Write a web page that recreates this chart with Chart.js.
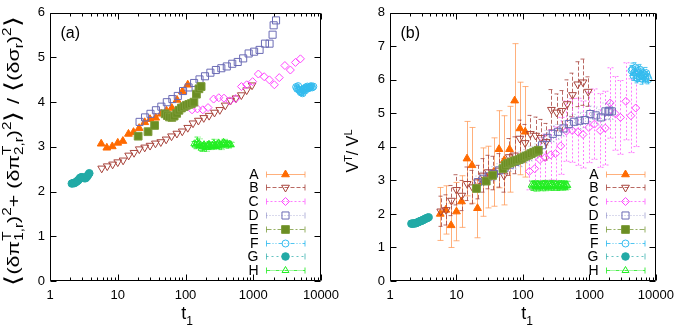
<!DOCTYPE html>
<html><head><meta charset="utf-8">
<script src="https://cdn.jsdelivr.net/npm/chart.js@4.4.1/dist/chart.umd.min.js"></script>
<style>
html,body{margin:0;padding:0;background:#fff;}
#wrap{position:relative;width:681px;height:326px;overflow:hidden;background:#fff;}
#ca{position:absolute;left:0;top:0;width:352px;height:326px;}
#cb{position:absolute;left:340px;top:0;width:341px;height:326px;}
</style></head><body>
<div id="wrap">
<canvas id="ca" width="352" height="326"></canvas>
<canvas id="cb" width="341" height="326"></canvas>
</div>
<script>
// ---------------- data ----------------
const seriesNames = ['A','B','C','D','E','F','G','H'];
const xTickValues = [1, 10, 100, 1000, 10000];
const yTicksA = [0, 1, 2, 3, 4, 5, 6];
const yTicksB = [0, 1, 2, 3, 4, 5, 6, 7, 8];

const A_t = [5.7, 6.9, 8.3, 10, 11.9, 14.4, 17.1, 20.7, 25, 30, 36.3, 43.6, 52.4, 62.8, 75, 90, 108];
const A_a = [3.07, 2.98, 3.01, 3.09, 3.13, 3.29, 3.33, 3.42, 3.55, 3.62, 3.65, 3.74, 3.81, 3.87, 4.05, 4.24, 4.39];
const A_b = [2.00, 2.12, 1.66, 2.07, 2.37, 3.65, 3.45, 2.17, 2.95, 3.10, 3.25, 3.93, 3.60, 3.93, 5.38, 4.55, 4.45];
const A_bErr = [0.79, 0.72, 0.66, 0.87, 0.77, 1.11, 1.13, 0.88, 1.02, 0.92, 1.02, 1.15, 1.33, 1.28, 1.70, 1.38, 1.35];

const B_t = [5.8, 7.0, 8.4, 10, 12, 14.5, 17.4, 20.8, 25, 30, 36, 43.2, 51.8, 62.2, 74.6, 89.6, 108, 129, 155, 186, 223, 268, 321, 386, 463, 556, 667, 800, 960];
const B_a = [2.52, 2.57, 2.61, 2.66, 2.70, 2.81, 2.87, 2.95, 2.99, 3.03, 3.08, 3.11, 3.17, 3.24, 3.30, 3.35, 3.43, 3.53, 3.59, 3.65, 3.70, 3.77, 3.83, 3.93, 4.04, 4.09, 4.16, 4.27, 4.38];
const B_b = [2.08, 2.12, 2.40, 2.72, 2.55, 2.90, 2.80, 2.95, 3.15, 3.25, 3.22, 3.30, 3.15, 3.70, 3.75, 4.25, 4.12, 4.39, 4.34, 4.27, 4.15, 5.11, 5.03, 5.08, 5.28, 5.55, 5.87, 5.93, 5.65];
const B_bErr = [0.45, 0.45, 0.45, 0.45, 0.45, 0.50, 0.50, 0.50, 0.50, 0.50, 0.50, 0.50, 0.50, 0.55, 0.55, 0.55, 0.55, 0.55, 0.55, 0.55, 0.55, 0.60, 0.55, 0.60, 0.72, 0.65, 0.67, 0.69, 0.44];

const C_t = [125, 150, 180, 215, 260, 310, 370, 450, 550, 670, 800, 980, 1190, 1450, 1730, 2050, 2420, 2930, 3530, 4200, 4970];
const C_a = [3.83, 3.85, 3.83, 3.88, 4.07, 4.10, 4.09, 4.03, 4.08, 4.35, 4.39, 4.46, 4.63, 4.57, 4.50, 4.39, 4.55, 4.82, 4.72, 4.89, 4.97];
const C_b = [3.27, 3.35, 3.62, 3.68, 3.76, 3.80, 4.03, 4.47, 4.49, 4.45, 4.37, 4.58, 4.68, 4.49, 4.56, 5.31, 5.00, 4.88, 5.36, 4.93, 5.16];
const C_bErr = [0.55, 0.60, 0.65, 0.70, 0.75, 0.80, 0.85, 0.90, 0.95, 1.00, 1.00, 1.05, 1.05, 1.10, 1.10, 1.05, 1.10, 1.10, 1.15, 1.10, 1.15];

const D_t = [21, 25.3, 30.4, 36.6, 44, 53, 64, 77, 92, 111, 134, 161, 194, 233, 281, 338, 407, 490, 590, 710, 855, 1030, 1240, 1490, 1740, 1930, 2000, 2170];
const D_a = [3.56, 3.66, 3.74, 3.82, 3.90, 4.00, 4.07, 4.14, 4.25, 4.33, 4.43, 4.51, 4.58, 4.66, 4.72, 4.76, 4.80, 4.86, 4.90, 4.98, 5.09, 5.13, 5.17, 5.31, 5.31, 5.51, 5.72, 5.83];
const D_b = [2.95, 3.05, 3.12, 3.20, 3.30, 3.38, 3.47, 3.55, 3.63, 3.72, 3.80, 3.88, 4.05, 4.27, 4.39, 4.45, 4.55, 4.68, 4.75, 4.78, 4.80, 4.98, 4.94, 4.88, 5.06, 5.05, 5.08, 5.06];
const D_bErr = [0.18, 0.20, 0.19, 0.21, 0.20, 0.22, 0.20, 0.21, 0.22, 0.20, 0.22, 0.21, 0.23, 0.22, 0.24, 0.22, 0.23, 0.24, 0.22, 0.25, 0.23, 0.24, 0.25, 0.23, 0.25, 0.24, 0.25, 0.24];

const E_t = [20, 28, 35, 50, 54, 58, 63, 68, 74, 80, 87, 95, 103, 112, 122, 133, 145, 158, 170];
const E_a = [3.24, 3.34, 3.48, 3.74, 3.70, 3.67, 3.66, 3.69, 3.75, 3.82, 3.87, 3.90, 3.93, 3.95, 3.97, 4.00, 4.18, 4.30, 4.35];
const E_b = [2.76, 2.98, 3.15, 3.35, 3.45, 3.50, 3.52, 3.55, 3.58, 3.60, 3.62, 3.66, 3.70, 3.73, 3.76, 3.80, 3.84, 3.87, 3.90];
const E_bErr = [0.08, 0.08, 0.08, 0.08, 0.08, 0.08, 0.08, 0.08, 0.08, 0.08, 0.08, 0.08, 0.08, 0.08, 0.08, 0.08, 0.08, 0.08, 0.08];

const F_t = [4300, 4450, 4600, 4750, 4900, 5050, 5200, 5350, 5500, 5650, 5800, 5950, 6100, 6300, 6500, 6700, 6900, 7150, 7400, 7700];
const F_a = [4.34, 4.30, 4.36, 4.28, 4.25, 4.22, 4.24, 4.20, 4.27, 4.30, 4.26, 4.33, 4.30, 4.35, 4.31, 4.34, 4.33, 4.36, 4.33, 4.35];
const F_aErr = [0.04, 0.05, 0.04, 0.05, 0.04, 0.05, 0.04, 0.05, 0.04, 0.05, 0.04, 0.05, 0.04, 0.05, 0.04, 0.05, 0.04, 0.05, 0.04, 0.05];
const F_b = [6.28, 6.32, 6.12, 6.22, 6.36, 6.15, 6.05, 6.26, 6.20, 6.10, 6.30, 6.14, 6.04, 6.20, 6.10, 6.16, 6.06, 6.20, 6.10, 6.02];
const F_bErr = [0.15, 0.18, 0.14, 0.16, 0.15, 0.17, 0.14, 0.16, 0.18, 0.15, 0.16, 0.14, 0.17, 0.15, 0.16, 0.14, 0.15, 0.17, 0.15, 0.14];

const G_t = [2.1, 2.2, 2.3, 2.4, 2.5, 2.6, 2.7, 2.8, 2.9, 3.0, 3.1, 3.2, 3.35, 3.5, 3.65, 3.8];
const G_a = [2.18, 2.19, 2.19, 2.21, 2.23, 2.25, 2.28, 2.31, 2.32, 2.32, 2.31, 2.30, 2.30, 2.33, 2.37, 2.41];
const G_b = [1.71, 1.71, 1.72, 1.72, 1.73, 1.75, 1.76, 1.78, 1.79, 1.80, 1.81, 1.83, 1.85, 1.87, 1.88, 1.90];
const G_bErr = [0.04, 0.04, 0.04, 0.04, 0.04, 0.04, 0.04, 0.04, 0.04, 0.04, 0.04, 0.04, 0.04, 0.04, 0.04, 0.04];

const H_t = [135, 141, 147, 153, 159, 166, 173, 180, 188, 196, 204, 213, 222, 231, 241, 251, 262, 273, 284, 296, 309, 322, 335, 349, 364, 379, 395, 412, 429, 447, 466];
const H_a = [3.07, 3.04, 3.10, 3.06, 3.08, 3.03, 2.97, 3.01, 3.05, 3.00, 2.99, 3.03, 3.06, 3.02, 3.00, 3.04, 3.07, 3.03, 3.01, 3.05, 3.09, 3.04, 3.02, 3.06, 3.10, 3.08, 3.05, 3.07, 3.04, 3.06, 3.05];
const H_aErr = [0.05, 0.08, 0.12, 0.06, 0.10, 0.05, 0.07, 0.06, 0.05, 0.06, 0.09, 0.05, 0.06, 0.08, 0.05, 0.06, 0.10, 0.05, 0.06, 0.07, 0.05, 0.06, 0.08, 0.05, 0.07, 0.06, 0.05, 0.06, 0.07, 0.05, 0.05];
const H_b = [2.86, 2.83, 2.88, 2.84, 2.82, 2.87, 2.85, 2.81, 2.86, 2.84, 2.88, 2.83, 2.85, 2.87, 2.82, 2.86, 2.84, 2.88, 2.85, 2.83, 2.87, 2.84, 2.86, 2.82, 2.85, 2.88, 2.84, 2.86, 2.83, 2.87, 2.85];
const H_bErr = [0.12, 0.13, 0.11, 0.12, 0.14, 0.12, 0.13, 0.12, 0.11, 0.13, 0.12, 0.14, 0.12, 0.13, 0.11, 0.12, 0.13, 0.12, 0.14, 0.12, 0.11, 0.13, 0.12, 0.12, 0.13, 0.11, 0.12, 0.13, 0.12, 0.11, 0.12];

// ---------------- styles ----------------
const FONT = "'Liberation Sans', Arial, Helvetica, sans-serif";
const NONE = 'rgba(0,0,0,0)';
const styles = {
  A: {pointStyle:'triangle', pointRadius:4.5, pointRotation:0, pointBackgroundColor:'#ff6a00', pointBorderColor:'#ff6a00', errColor:'rgba(255,150,80,0.75)', errDash:[]},
  B: {pointStyle:'triangle', pointRadius:4.5, pointRotation:180, pointBackgroundColor:NONE, pointBorderColor:'#a8443c', errColor:'rgba(168,68,60,0.8)', errDash:[4,2]},
  C: {pointStyle:'rectRot', pointRadius:4, pointRotation:0, pointBackgroundColor:NONE, pointBorderColor:'#ff44ff', errColor:'rgba(255,90,255,0.8)', errDash:[2,2]},
  D: {pointStyle:'rect', pointRadius:5, pointRotation:0, pointBackgroundColor:NONE, pointBorderColor:'#6b6bb5', errColor:'rgba(120,120,190,0.55)', errDash:[1,2]},
  E: {pointStyle:'rect', pointRadius:5.5, pointRotation:0, pointBackgroundColor:'#6b8e23', pointBorderColor:'#7d9c3a', errColor:'rgba(107,142,35,0.7)', errDash:[5,2,2,2]},
  F: {pointStyle:'circle', pointRadius:3.5, pointRotation:0, pointBackgroundColor:NONE, pointBorderColor:'#33bbee', errColor:'rgba(51,187,238,0.85)', errDash:[4,2,1,2,1,2]},
  G: {pointStyle:'circle', pointRadius:3.8, pointRotation:0, pointBackgroundColor:'#22aaa6', pointBorderColor:'#22aaa6', errColor:'rgba(34,170,166,0.7)', errDash:[2,3]},
  H: {pointStyle:'triangle', pointRadius:4, pointRotation:0, pointBackgroundColor:NONE, pointBorderColor:'#22ee22', errColor:'rgba(40,235,40,0.85)', errDash:[4,1,1,1,1,1]}
};

function makeDataset(name, idx, ts, vs, errs) {
  const st = styles[name];
  return Object.assign({
    label: name,
    data: ts.map((t, i) => ({x: t, y: vs[i]})),
    errs: errs || null,
    pointBorderWidth: 1,
    pointHoverRadius: 0,
    showLine: false,
    order: 7 - idx
  }, st);
}

const datasetsA = [
  makeDataset('A', 0, A_t, A_a),
  makeDataset('B', 1, B_t, B_a),
  makeDataset('C', 2, C_t, C_a),
  makeDataset('D', 3, D_t, D_a),
  makeDataset('E', 4, E_t, E_a),
  makeDataset('F', 5, F_t, F_a, F_aErr),
  makeDataset('G', 6, G_t, G_a),
  makeDataset('H', 7, H_t, H_a, H_aErr)
];
const datasetsB = [
  makeDataset('A', 0, A_t, A_b, A_bErr),
  makeDataset('B', 1, B_t, B_b, B_bErr),
  makeDataset('C', 2, C_t, C_b, C_bErr),
  makeDataset('D', 3, D_t, D_b, D_bErr),
  makeDataset('E', 4, E_t, E_b, E_bErr),
  makeDataset('F', 5, F_t, F_b, F_bErr),
  makeDataset('G', 6, G_t, G_b, G_bErr),
  makeDataset('H', 7, H_t, H_b, H_bErr)
];

// ---------------- helpers ----------------
function richText(ctx, items, cx, cy, angle, base, targetLen) {
  const sm = Math.round(base * 0.68);
  ctx.save();
  ctx.fillStyle = '#000';
  const ws = items.map(it => {
    if (it.t !== undefined) { ctx.font = (base * (it.scale || 1)) + 'px ' + FONT; return ctx.measureText(it.t).width; }
    ctx.font = sm + 'px ' + FONT;
    return Math.max(it.sub ? ctx.measureText(it.sub).width : 0, it.sup ? ctx.measureText(it.sup).width : 0);
  });
  const total = ws.reduce((a, b) => a + b, 0);
  ctx.translate(cx, cy);
  ctx.rotate(angle);
  if (targetLen) ctx.scale(targetLen / total, 1);
  let x = -total / 2;
  const bl = base * 0.36;
  ctx.textAlign = 'left';
  ctx.textBaseline = 'alphabetic';
  items.forEach((it, i) => {
    if (it.t !== undefined) {
      ctx.font = (base * (it.scale || 1)) + 'px ' + FONT;
      ctx.fillText(it.t, x, bl + (it.dy || 0));
    } else {
      ctx.font = sm + 'px ' + FONT;
      if (it.sub) ctx.fillText(it.sub, x, bl + base * 0.28);
      if (it.sup) ctx.fillText(it.sup, x, bl - base * 0.42);
    }
    x += ws[i];
  });
  ctx.restore();
}

function drawMarker(ctx, st, x, y) {
  ctx.save();
  ctx.setLineDash([]);
  ctx.fillStyle = st.pointBackgroundColor;
  ctx.strokeStyle = st.pointBorderColor;
  ctx.lineWidth = 1;
  if (Chart.helpers && Chart.helpers.drawPoint) {
    Chart.helpers.drawPoint(ctx, {pointStyle: st.pointStyle, rotation: st.pointRotation || 0, radius: st.pointRadius, borderWidth: 1}, x, y);
  } else {
    ctx.beginPath(); ctx.arc(x, y, st.pointRadius, 0, Math.PI * 2); ctx.fill(); ctx.stroke();
  }
  ctx.restore();
}

const errorBarPlugin = {
  id: 'errorBars',
  beforeDatasetsDraw(chart) {
    const {ctx, chartArea: a, scales: {x, y}} = chart;
    ctx.save();
    ctx.beginPath(); ctx.rect(a.left, a.top, a.right - a.left, a.bottom - a.top); ctx.clip();
    ctx.lineWidth = 1;
    chart.data.datasets.forEach(ds => {
      if (!ds.errs) return;
      ctx.strokeStyle = ds.errColor;
      ctx.setLineDash(ds.errDash);
      ds.data.forEach((p, i) => {
        const e = ds.errs[i];
        const px = Math.round(x.getPixelForValue(p.x)) + 0.5;
        const y1 = y.getPixelForValue(p.y - e), y2 = y.getPixelForValue(p.y + e);
        ctx.beginPath();
        ctx.moveTo(px, y1); ctx.lineTo(px, y2);
        ctx.moveTo(px - 3, y1); ctx.lineTo(px + 3, y1);
        ctx.moveTo(px - 3, y2); ctx.lineTo(px + 3, y2);
        ctx.stroke();
      });
    });
    ctx.restore();
  }
};

const framePlugin = {
  id: 'frame',
  afterDatasetsDraw(chart) {
    const {ctx, chartArea: a, scales: {x, y}} = chart;
    const L = Math.round(a.left) + 0.5, R = Math.round(a.right) - 0.5, T = Math.round(a.top) + 0.5, B = Math.round(a.bottom) - 0.5;
    ctx.save();
    ctx.strokeStyle = '#000';
    ctx.lineWidth = 1;
    ctx.setLineDash([]);
    ctx.beginPath();
    ctx.rect(L, T, R - L, B - T);
    for (let d = 1; d <= 10000; d *= 10) {
      for (let k = 1; k <= 9; k++) {
        const v = d * k;
        if (v > 10000) break;
        const px = Math.round(x.getPixelForValue(v)) + 0.5;
        const len = (k === 1) ? 6 : 3;
        ctx.moveTo(px, B); ctx.lineTo(px, B - len);
        ctx.moveTo(px, T); ctx.lineTo(px, T + len);
      }
    }
    y.ticks.forEach(tk => {
      const py = Math.round(y.getPixelForValue(tk.value)) + 0.5;
      ctx.moveTo(L, py); ctx.lineTo(L + 6, py);
      ctx.moveTo(R, py); ctx.lineTo(R - 6, py);
    });
    ctx.stroke();
    ctx.restore();
  }
};

const legendPlugin = {
  id: 'keybox',
  afterDatasetsDraw(chart) {
    const ctx = chart.ctx;
    const a = chart.chartArea;
    const letterX = a.left + 208.5, x1 = a.left + 216.5, x2 = a.left + 255, xm = a.left + 235.5;
    const y0 = 173.5, dy = 13.8;
    ctx.save();
    chart.data.datasets.forEach((ds, i) => {
      const yy = Math.round(y0 + i * dy) + 0.5;
      ctx.fillStyle = '#000';
      ctx.font = '14px ' + FONT;
      ctx.textAlign = 'right';
      ctx.textBaseline = 'middle';
      ctx.fillText(seriesNames[i], letterX, yy + 0.5);
      ctx.strokeStyle = ds.errColor;
      ctx.lineWidth = 1;
      ctx.setLineDash(ds.errDash);
      ctx.beginPath();
      ctx.moveTo(x1, yy); ctx.lineTo(x2, yy);
      ctx.stroke();
      ctx.setLineDash([]);
      ctx.beginPath();
      ctx.moveTo(x1, yy - 3); ctx.lineTo(x1, yy + 3);
      ctx.moveTo(x2, yy - 3); ctx.lineTo(x2, yy + 3);
      ctx.stroke();
      drawMarker(ctx, ds, xm, yy);
    });
    ctx.restore();
  }
};

function titlesPlugin(panelLabel, yItems, yLen, yBase) {
  return {
    id: 'titles',
    afterDraw(chart) {
      const ctx = chart.ctx;
      const a = chart.chartArea;
      ctx.save();
      ctx.fillStyle = '#000';
      ctx.font = '16px ' + FONT;
      ctx.textAlign = 'left';
      ctx.textBaseline = 'alphabetic';
      ctx.fillText(panelLabel, a.left + 10.5, 37.5);
      ctx.restore();
      richText(ctx, [{t: 't'}, {sub: '1'}], a.left + 137, 313, 0, 18);
      richText(ctx, yItems, 12.5, 151, -Math.PI / 2, yBase, yLen);
    }
  };
}

const yTitleA = [
  {t: '\u27E8', scale: 1.3, dy: 1}, {t: '(\u03B4\u03C0'}, {sub: '1,r', sup: 'T'}, {t: ')'}, {sup: '2'},
  {t: '+ (\u03B4\u03C0'}, {sub: '2,r', sup: 'T'}, {t: ')'}, {sup: '2'}, {t: '\u27E9', scale: 1.3, dy: 1},
  {t: ' / '}, {t: '\u27E8', scale: 1.3, dy: 1}, {t: '(\u03B4\u03C3'}, {sub: 'r'}, {t: ')'}, {sup: '2'},
  {t: '\u27E9', scale: 1.3, dy: 1}
];
const yTitleB = [{t: 'V'}, {sup: 'T'}, {t: '/ V'}, {sup: 'L'}];

function makeChart(id, canvasW, yTicks, datasets, label, yItems, yLen, yBase) {
  return new Chart(document.getElementById(id), {
    type: 'scatter',
    data: {datasets},
    options: {
      responsive: false,
      animation: false,
      devicePixelRatio: 1,
      layout: {padding: {left: 0, right: canvasW - 321, top: 11, bottom: 0}},
      plugins: {legend: {display: false}, tooltip: {enabled: false}},
      events: [],
      scales: {
        x: {
          type: 'logarithmic', min: 1, max: 10000,
          grid: {display: false, drawTicks: false},
          border: {display: false},
          ticks: {font: {family: FONT, size: 13}, color: '#000', padding: 7, autoSkip: false, maxRotation: 0,
                  callback: (v) => String(v)},
          afterBuildTicks: (s) => { s.ticks = xTickValues.map(v => ({value: v})); },
          afterFit: (s) => { s.height = 45; }
        },
        y: {
          type: 'linear', min: yTicks[0], max: yTicks[yTicks.length - 1],
          grid: {display: false, drawTicks: false},
          border: {display: false},
          ticks: {font: {family: FONT, size: 13}, color: '#000', padding: 5, callback: (v) => String(v)},
          afterBuildTicks: (s) => { s.ticks = yTicks.map(v => ({value: v})); },
          afterFit: (s) => { s.width = 50; }
        }
      }
    },
    plugins: [errorBarPlugin, framePlugin, legendPlugin, titlesPlugin(label, yItems, yLen, yBase)]
  });
}

makeChart('ca', 352, yTicksA, datasetsA, '(a)', yTitleA, 270, 17);
makeChart('cb', 341, yTicksB, datasetsB, '(b)', yTitleB, 0, 16);
</script>
</body></html>
